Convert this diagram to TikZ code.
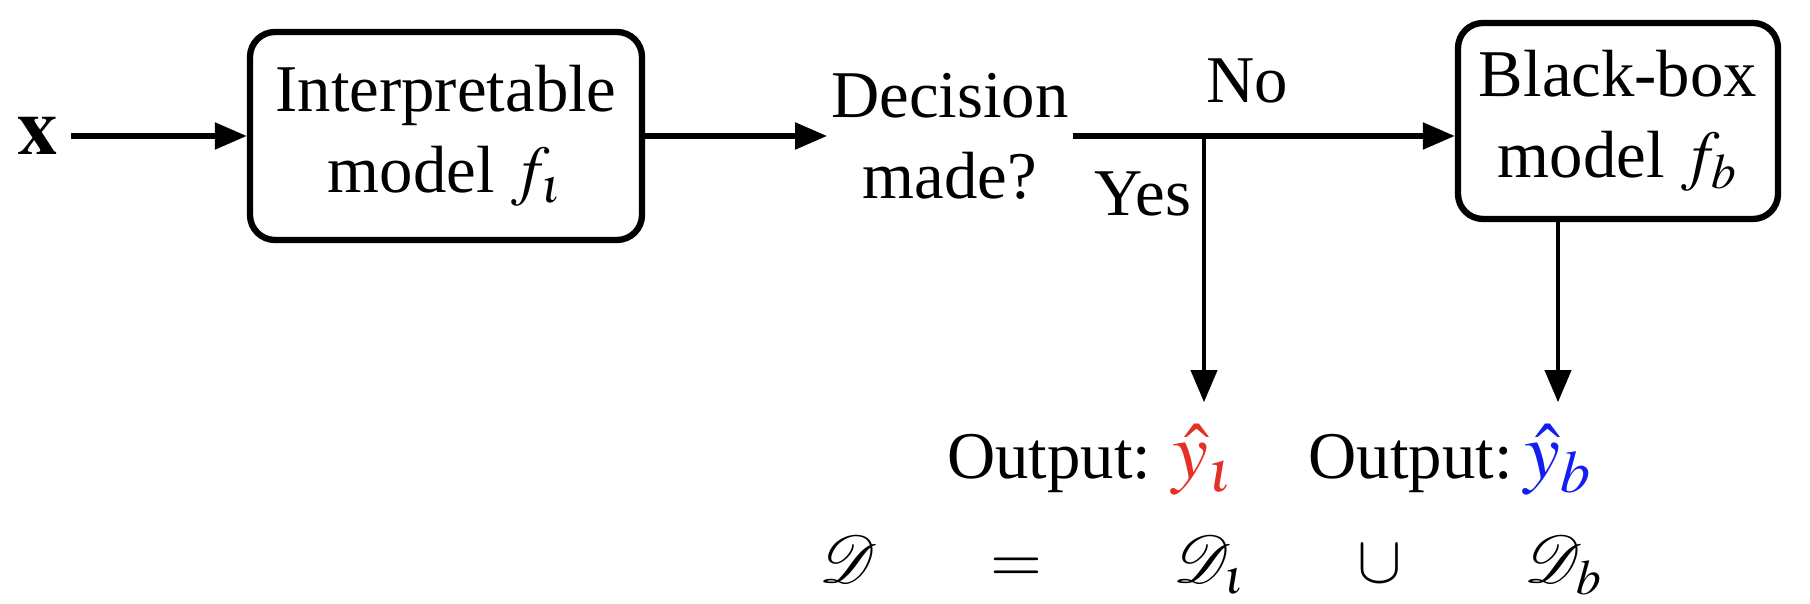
\documentclass[tikz,border=0pt]{standalone}
\usepackage{mathptmx}
\usepackage{fontspec}
\setmainfont{Liberation Serif}
\usetikzlibrary{arrows.meta,positioning}
\definecolor{outred}{RGB}{228,48,38}
\definecolor{outblue}{RGB}{20,30,240}

\begin{document}
\begin{tikzpicture}[
    font=\fontsize{19}{23}\selectfont,
    box/.style={rectangle, draw, line width=1.8pt, rounded corners=0.25cm, align=center, inner sep=0pt},
    arr/.style={-{Triangle[length=0.32cm,width=0.26cm]}, line width=1.5pt},
    thinarr/.style={-{Triangle[length=0.32cm,width=0.26cm]}, line width=1.1pt},
    yhat/.style={anchor=base, inner sep=0pt, font=\fontsize{23}{27}\selectfont}
]
\useasboundingbox (0,0) rectangle (18.1,6.04);
% pipeline
\node[font=\fontsize{23}{27}\selectfont] (x) at (0.38,4.68) {$\mathbf{x}$};
\node[box, minimum width=3.92cm, minimum height=2.08cm] (interp) at (4.46,4.68) {Interpretable\\model $f_\iota$};
\node[align=center, inner sep=1pt] (dec) at (9.5,4.68) {Decision\\made?};
\node[box, minimum width=3.2cm, minimum height=1.96cm] (bb) at (16.18,4.83) {Black-box\\model $f_b$};
\coordinate (split) at (12.04,4.68);
\node (no) at (12.47,5.23) {No};
\node (yes) at (11.43,4.10) {Yes};
% outputs
\node[yhat] (yhati) at (12.04,1.25) {$\color{outred}\hat{y}_\iota$};
\node[anchor=base east, inner sep=0pt] (outi) at ([xshift=-0.2cm]yhati.base west) {Output:};
\node[yhat] (yhatb) at (15.58,1.25) {$\color{outblue}\hat{y}_b$};
\node[anchor=base east, inner sep=0pt] (outb) at ([xshift=-0.1cm]yhatb.base west) {Output:};
% union
\node[anchor=base] (dall) at (8.48,0.21) {$\mathcal{D}$};
\node[anchor=base] (eq) at (10.16,0.21) {$=$};
\node[anchor=base] (di) at (12.1,0.21) {$\mathcal{D}_\iota$};
\node[anchor=base] (cup) at (13.8,0.21) {$\cup$};
\node[anchor=base] (db) at (15.64,0.21) {$\mathcal{D}_b$};
% connectors
\draw[arr] (x) -- (interp);
\draw[arr] (interp) -- (dec);
\draw[arr] (dec.east) -- (dec.east -| bb.west);
\draw[thinarr] (split) -- ([yshift=0.22cm]yhati.north);
\draw[thinarr] (bb.south -| yhatb) -- ([yshift=0.22cm]yhatb.north);
\end{tikzpicture}
\end{document}
